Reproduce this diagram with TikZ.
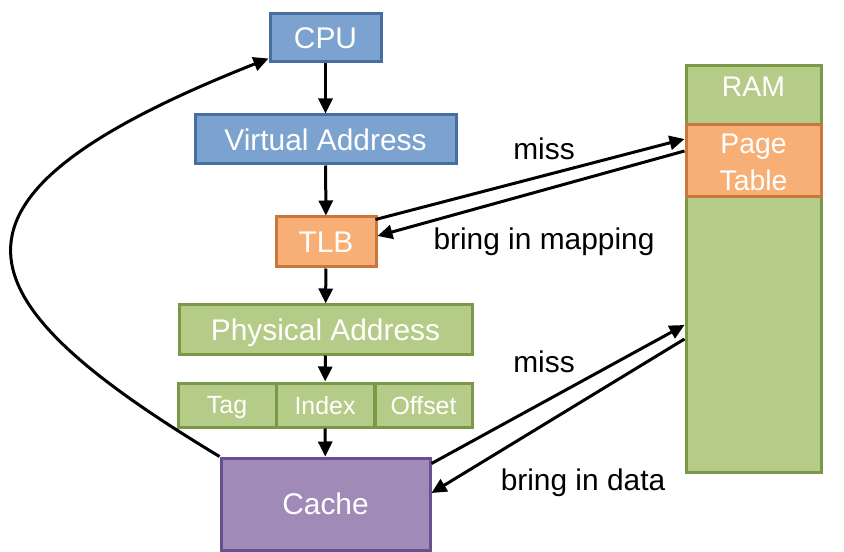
\documentclass[tikz,border=0pt]{standalone}
\usepackage{fontspec}
\setmainfont{Liberation Sans}
\usetikzlibrary{arrows.meta,calc}
\definecolor{B1}{RGB}{124,163,207}
\definecolor{B2}{RGB}{72,110,160}
\definecolor{O1}{RGB}{247,175,117}
\definecolor{O2}{RGB}{200,120,60}
\definecolor{G1}{RGB}{181,204,136}
\definecolor{G2}{RGB}{122,152,72}
\definecolor{P1}{RGB}{160,138,184}
\definecolor{P2}{RGB}{104,80,140}
\tikzset{
  box/.style={draw, line width=3bp, inner sep=0pt, text=white, text depth=0pt,
              font=\fontsize{30}{34}\selectfont},
  bluebox/.style={box, fill=B1, draw=B2},
  orbox/.style={box, fill=O1, draw=O2},
  grbox/.style={box, fill=G1, draw=G2},
  pubox/.style={box, fill=P1, draw=P2},
  link/.style={line width=3bp, -{Triangle[length=15bp,width=14bp]}},
  lab/.style={anchor=base, font=\fontsize{30}{34}\selectfont},
}

\begin{document}
\begin{tikzpicture}[x=1bp, y=-1bp]
  \useasboundingbox (0,0) rectangle (844,552);
  % address path
  \node[bluebox, minimum width=111bp, minimum height=48bp] (cpu) at (325.5,38) {CPU};
  \node[bluebox, minimum width=261bp, minimum height=49bp] (va) at (325.5,139.5) {Virtual Address};
  \node[orbox, minimum width=100bp, minimum height=50bp] (tlb) at (326,242) {TLB};
  \node[grbox, minimum width=293bp, minimum height=49bp] (pa) at (325.5,329.5) {Physical Address};
  \node[grbox, minimum width=98bp, minimum height=44bp, font=\fontsize{25}{28}\selectfont] (tag) at (227,405) {Tag};
  \node[grbox, minimum width=98bp, minimum height=44bp, font=\fontsize{25}{28}\selectfont] (index) at (325,405) {Index};
  \node[grbox, minimum width=97bp, minimum height=44bp, font=\fontsize{25}{28}\selectfont] (offset) at (423.5,405) {Offset};
  \node[pubox, minimum width=209bp, minimum height=92bp] (cache) at (325.5,504) {Cache};
  % memory
  \node[grbox, minimum width=135bp, minimum height=406bp] (ram) at (753.5,269) {};
  \node[anchor=base, text=white, font=\fontsize{28.5}{34}\selectfont] (ramlabel) at ($(ram.north)+(0,32)$) {RAM};
  \node[orbox, minimum width=135bp, minimum height=72bp] (pt) at (753.5,161) {};
  \node[anchor=base, text=white, align=center, font=\fontsize{28.5}{37}\selectfont] (ptlabel)
        at ($(pt.north)+(0,67)$) {Page\\Table};

  \draw[link] (cpu) -- (va);
  \draw[link] (va) -- (tlb);
  \draw[link] (tlb) -- (pa);
  \draw[link] (pa) -- (index);
  \draw[link] (index) -- (cache);

  \draw[link] ($(tlb.north east)+(-2,4)$) -- ($(pt.west)+(0,-22)$);
  \draw[link] ($(pt.west)+(0,-10)$) -- ($(tlb.east)+(0,-6)$);
  \draw[link] ($(cache.north east)+(0,7)$) -- ($(ram.west)+(0,56)$);
  \draw[link] ($(ram.west)+(0,70)$) -- ($(cache.east)+(0,-11)$);

  \draw[link] (cache.north west) .. controls (-40,300) and (-90,200) .. ($(cpu.south west)+(0,-5)$);

  \node[lab] (miss1) at (544,160) {miss};
  \node[lab] (bring1) at (544,250) {bring in mapping};
  \node[lab] (miss2) at (544,372) {miss};
  \node[lab] (bring2) at (583,490) {bring in data};
\end{tikzpicture}
\end{document}
